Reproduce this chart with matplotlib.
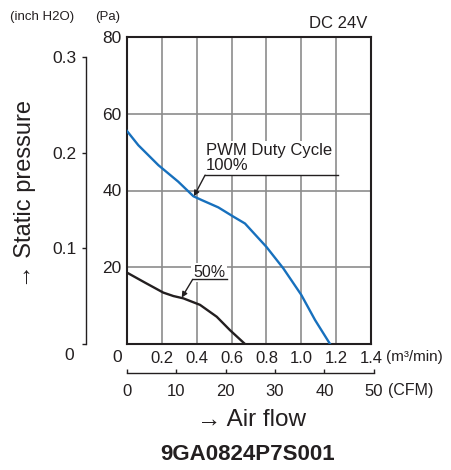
import matplotlib
matplotlib.use('Agg')
import matplotlib.pyplot as plt

# inputs - PQ curves (air flow in m3/min, static pressure in Pa)
flow_100 = [0.0, 0.065, 0.18, 0.294, 0.381, 0.429, 0.524, 0.61, 0.677,
            0.80, 0.897, 1.0, 1.079, 1.165]
pres_100 = [55.5, 51.8, 46.6, 42.3, 38.5, 37.5, 35.6, 33.2, 31.4,
            25.3, 19.7, 12.8, 6.25, 0.0]
flow_50 = [0.0, 0.103, 0.208, 0.266, 0.323, 0.419, 0.515, 0.591, 0.677]
pres_50 = [18.6, 16.0, 13.4, 12.5, 11.9, 10.2, 7.1, 3.6, 0.0]

# inputs - ticks
flow_ticks = [0.2, 0.4, 0.6, 0.8, 1.0, 1.2, 1.4]
flow_labels = ['0.2', '0.4', '0.6', '0.8', '1.0', '1.2', '1.4']
pa_ticks = [20, 40, 60, 80]
inch_ticks = [0, 0.1, 0.2, 0.3]
inch_labels = ['', '0.1', '0.2', '0.3']
cfm_ticks = [0, 10, 20, 30, 40, 50]

PA_PER_INCH = 249.089
CFM_PER_M3 = 35.3147
FLOW_MAX = 1.4

# style
W, H = 452, 470
ink = '#231f20'
blue = '#1770bd'
grid_col = '#8c8c8c'
plt.rcParams['font.family'] = ['Liberation Sans', 'DejaVu Sans']
plt.rcParams['text.color'] = ink


def fxy(px, py):
    return px / W, 1 - py / H


fig = plt.figure(figsize=(W / 100, H / 100), dpi=100)
ax_left, ax_bottom, ax_w, ax_h = 127, 344, 244, 307
ax = fig.add_axes([ax_left / W, (H - ax_bottom) / H, ax_w / W, ax_h / H])

ax.plot(flow_100, pres_100, color=blue, lw=1.7, zorder=3)
ax.plot(flow_50, pres_50, color=ink, lw=1.7, zorder=3)

ax.set_xlim(0, FLOW_MAX)
ax.set_ylim(0, 80)
ax.set_xticks(flow_ticks, flow_labels)
ax.set_yticks(pa_ticks)
ax.grid(True, color=grid_col, lw=1.2, zorder=1)
ax.tick_params(axis='x', length=0, pad=5, labelsize=12, colors=ink)
ax.tick_params(axis='y', length=0, pad=3.8, labelsize=12.5, colors=ink)
for sp in ax.spines.values():
    sp.set_linewidth(1.5)
    sp.set_color(ink)

# inch H2O axis
sec_y = ax.secondary_yaxis(-41 / ax_w, functions=(lambda p: p / PA_PER_INCH,
                                                  lambda i: i * PA_PER_INCH))
sec_y.set_yticks(inch_ticks, inch_labels)
sec_y.tick_params(direction='out', length=3, width=1, pad=4,
                  labelsize=12.5, colors=ink)
sec_y.spines['left'].set_bounds(inch_ticks[0], inch_ticks[-1])
sec_y.spines['left'].set_linewidth(1)
sec_y.spines['left'].set_color(ink)
sec_y.spines['right'].set_visible(False)

# CFM axis (its own axes so that 50 CFM, past 1.4 m3/min, is kept)
cfm_w = (cfm_ticks[-1] / CFM_PER_M3) / FLOW_MAX * ax_w
cax = fig.add_axes([ax_left / W, (H - 373) / H, cfm_w / W, 0.0001])
cax.set_xlim(cfm_ticks[0], cfm_ticks[-1])
cax.set_xticks(cfm_ticks)
cax.set_yticks([])
cax.patch.set_visible(False)
for side in ['top', 'left', 'right']:
    cax.spines[side].set_visible(False)
cax.spines['bottom'].set_linewidth(1)
cax.spines['bottom'].set_color(ink)
cax.tick_params(axis='x', direction='in', length=3, width=1, pad=7.6,
                labelsize=12, colors=ink)

# annotations
box = dict(fc='white', ec='none', pad=1.5)
ax.text(0.453, 45.3, 'PWM Duty Cycle\n100%', fontsize=12, va='baseline',
        ha='left', linespacing=1.0, bbox=box, zorder=2)
ax.plot([0.448, 1.211], [44.0, 44.0], color=ink, lw=1, zorder=3)
ax.annotate('', xy=(0.384, 38.5), xytext=(0.448, 44.0),
            arrowprops=dict(arrowstyle='-|>', color=ink, lw=1,
                            mutation_scale=8, shrinkA=0, shrinkB=0),
            zorder=4)
ax.text(0.379, 17.4, '50%', fontsize=11.5, va='baseline', ha='left',
        bbox=box, zorder=2)
ax.plot([0.377, 0.572], [16.85, 16.85], color=ink, lw=1, zorder=3)
ax.annotate('', xy=(0.314, 12.1), xytext=(0.377, 16.85),
            arrowprops=dict(arrowstyle='-|>', color=ink, lw=1,
                            mutation_scale=8, shrinkA=0, shrinkB=0),
            zorder=4)

# figure texts
fig.text(*fxy(117.5, 357), '0', fontsize=12.5, ha='center', va='center')
fig.text(*fxy(69.5, 356), '0', fontsize=12.5, ha='center', va='center')
fig.text(*fxy(42, 17), '(inch H2O)', fontsize=9.5, ha='center', va='center')
fig.text(*fxy(108, 17), '(Pa)', fontsize=9.5, ha='center', va='center')
fig.text(*fxy(367, 23), 'DC 24V', fontsize=12, ha='right', va='center')
fig.text(*fxy(386, 357), '(m³/min)', fontsize=11, ha='left', va='center')
fig.text(*fxy(388, 390), '(CFM)', fontsize=11.5, ha='left', va='center')
fig.text(*fxy(25, 194), '→ Static pressure', fontsize=17, rotation=90,
         ha='center', va='center')
fig.text(*fxy(252, 420), '→ Air flow', fontsize=17.5, ha='center',
         va='center')
fig.text(*fxy(248, 455), '9GA0824P7S001', fontsize=16, fontweight='bold',
         ha='center', va='center')

fig.savefig('out.png', dpi=100)
